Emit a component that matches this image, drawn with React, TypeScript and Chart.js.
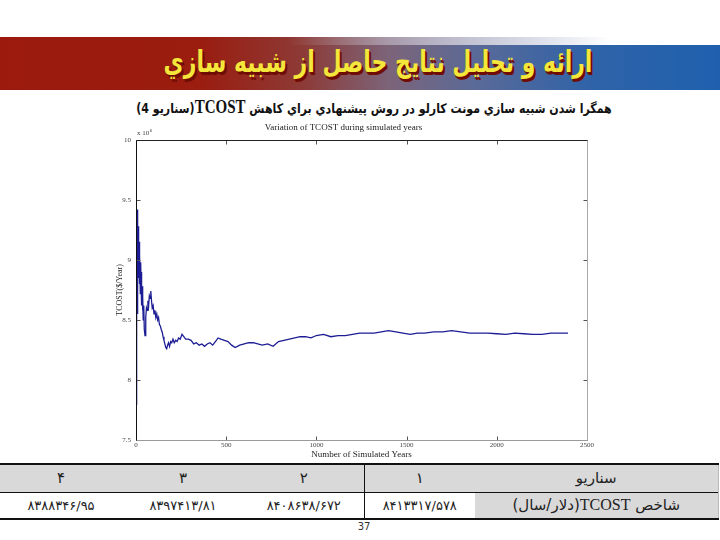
import React, { useEffect, useRef } from "react";
import { Chart, registerables } from "chart.js";

Chart.register(...registerables);

// ---- data ----
const years = [
  1, 2, 3, 4, 5, 6, 7, 8, 9, 10, 11, 12, 13, 14, 15, 16, 17, 18, 19, 20,
  22, 24, 26, 28, 30, 32, 34, 36, 38, 40, 43, 46, 50, 54, 58, 62, 66, 70,
  74, 78, 82, 86, 90, 95, 100, 105, 110, 115, 120, 125, 130, 135, 140, 145,
  150, 155, 160, 165, 170, 175, 180, 186, 192, 198, 205, 212, 220, 228, 236,
  245, 255, 265, 275, 290, 305, 320, 335, 350, 365, 380, 395, 410, 425, 440,
  455, 470, 490, 510, 530, 550, 575, 600, 625, 650, 675, 700, 730, 760, 790,
  820, 850, 880, 910, 940, 970, 1000, 1040, 1080, 1120, 1160, 1200, 1240,
  1280, 1320, 1360, 1400, 1440, 1480, 1520, 1560, 1600, 1650, 1700, 1750,
  1800, 1850, 1900, 1950, 2000, 2050, 2100, 2150, 2200, 2250, 2300, 2350, 2395,
];
const tcostMillions = [
  7.8, 8.95, 9.3, 8.2, 9.1, 9.38, 8.55, 9.2, 9.42, 8.85, 9.3, 8.95, 9.28, 8.9,
  9.22, 8.85, 9.15, 8.95, 9.12, 8.8, 9.05, 8.72, 8.98, 8.8, 8.9, 8.62, 8.78,
  8.58, 8.7, 8.5, 8.62, 8.42, 8.37, 8.52, 8.6, 8.58, 8.66, 8.62, 8.7, 8.68,
  8.74, 8.66, 8.6, 8.62, 8.55, 8.58, 8.52, 8.55, 8.5, 8.52, 8.46, 8.45, 8.42,
  8.4, 8.36, 8.33, 8.3, 8.27, 8.26, 8.29, 8.31, 8.28, 8.32, 8.31, 8.34, 8.31,
  8.33, 8.32, 8.35, 8.34, 8.38, 8.36, 8.34, 8.34, 8.33, 8.3, 8.31, 8.29, 8.3,
  8.28, 8.3, 8.31, 8.29, 8.32, 8.35, 8.34, 8.33, 8.32, 8.29, 8.27, 8.29, 8.3,
  8.31, 8.31, 8.3, 8.29, 8.3, 8.28, 8.32, 8.33, 8.34, 8.35, 8.36, 8.36, 8.35,
  8.37, 8.38, 8.36, 8.37, 8.37, 8.38, 8.39, 8.39, 8.39, 8.4, 8.41, 8.4, 8.39,
  8.38, 8.39, 8.39, 8.4, 8.4, 8.41, 8.4, 8.39, 8.39, 8.39, 8.385, 8.38, 8.39,
  8.385, 8.38, 8.38, 8.39, 8.39, 8.39,
];
const yTickValues = [7.5, 8, 8.5, 9, 9.5, 10];
const xTickValues = [0, 500, 1000, 1500, 2000, 2500];

const slideTitle = "ارائه و تحليل نتايج حاصل از شبيه سازي";
const subtitleText = "همگرا شدن شبيه سازي مونت كارلو در روش پيشنهادي براي كاهش";
const subtitleTail = "(سناريو 4)";
const chartTitle = "Variation of TCOST during simulated years";
const xAxisTitle = "Number of Simulated Years";
const yAxisTitle = "TCOST($/Year)";

const scenarioHeader = "سناريو";
const scenarioNames = ["۱", "۲", "۳", "۴"];
const scenarioValues = ["۸۴۱۳۳۱۷/۵۷۸", "۸۴۰۸۶۳۸/۶۷۲", "۸۳۹۷۴۱۳/۸۱", "۸۳۸۸۳۴۶/۹۵"];
const rowLabelPre = "شاخص ";
const rowLabelPost = "(دلار/سال)";
const pageNumber = "37";

const framePlugin = {
  id: "matlabFrame",
  afterDraw(chart: any) {
    const { ctx, chartArea: a, scales } = chart;
    const xs = scales.x;
    const ys = scales.y;
    ctx.save();
    ctx.lineWidth = 1;
    const seg = (x1: number, y1: number, x2: number, y2: number, c: string) => {
      ctx.strokeStyle = c;
      ctx.beginPath();
      ctx.moveTo(x1, y1);
      ctx.lineTo(x2, y2);
      ctx.stroke();
    };
    const L = Math.round(a.left) + 0.5;
    const R = Math.round(a.right) + 0.5;
    const T = Math.round(a.top) + 0.5;
    const B = Math.round(a.bottom) + 0.5;
    xs.ticks.forEach((t: any) => {
      const px = Math.round(xs.getPixelForValue(t.value)) + 0.5;
      seg(px, B, px, B - 4, "#555");
      seg(px, T, px, T + 4, "#555");
    });
    ys.ticks.forEach((t: any) => {
      const py = Math.round(ys.getPixelForValue(t.value)) + 0.5;
      seg(L, py, L + 4, py, "#555");
      seg(R, py, R - 4, py, "#555");
    });
    seg(L, B, R, B, "#9a9a9a");
    seg(R, T, R, B, "#a8a8a8");
    seg(L, T, R, T, "#222");
    seg(L, T, L, B, "#111");
    ctx.fillStyle = "#444";
    ctx.textBaseline = "alphabetic";
    ctx.textAlign = "left";
    ctx.font = '7px "Liberation Serif"';
    const base = "x 10";
    ctx.fillText(base, a.left + 1, a.top - 5);
    const w = ctx.measureText(base).width;
    ctx.font = '5px "Liberation Serif"';
    ctx.fillText("6", a.left + 1 + w + 0.5, a.top - 8);
    ctx.restore();
  },
};

function TcostChart() {
  const ref = useRef<HTMLCanvasElement | null>(null);
  useEffect(() => {
    if (!ref.current) return;
    const points = years.map((x, i) => ({ x, y: tcostMillions[i] }));
    const chart = new Chart(ref.current, {
      type: "line",
      data: {
        datasets: [
          {
            data: points,
            borderColor: "#1c1c94",
            borderWidth: 1.3,
            pointRadius: 0,
            tension: 0,
            fill: false,
          },
        ],
      },
      options: {
        animation: false,
        responsive: false,
        maintainAspectRatio: false,
        layout: { padding: { left: 0, right: 23, top: 0, bottom: 0 } },
        plugins: {
          legend: { display: false },
          tooltip: { enabled: false },
          title: {
            display: true,
            text: chartTitle,
            color: "#222",
            font: { family: "Liberation Serif", size: 9, weight: "normal" },
            padding: { top: 6, bottom: 7 },
          },
        },
        scales: {
          x: {
            type: "linear",
            min: 0,
            max: 2500,
            afterBuildTicks: (s: any) => {
              s.ticks = xTickValues.map((v) => ({ value: v }));
            },
            afterFit: (s: any) => {
              s.height = 22;
            },
            grid: { display: false, drawTicks: false },
            border: { display: false },
            ticks: {
              color: "#444",
              font: { family: "Liberation Serif", size: 7 },
              padding: 1,
              maxRotation: 0,
              callback: (v: any) => String(v),
            },
            title: {
              display: true,
              text: xAxisTitle,
              color: "#222",
              font: { family: "Liberation Serif", size: 9 },
              padding: { top: 0, bottom: 2 },
            },
          },
          y: {
            type: "linear",
            min: 7.5,
            max: 10,
            afterBuildTicks: (s: any) => {
              s.ticks = yTickValues.map((v) => ({ value: v }));
            },
            afterFit: (s: any) => {
              s.width = 36;
            },
            grid: { display: false, drawTicks: false },
            border: { display: false },
            ticks: {
              color: "#444",
              font: { family: "Liberation Serif", size: 7 },
              padding: 5,
              callback: (v: any) => String(v),
            },
            title: {
              display: true,
              text: yAxisTitle,
              color: "#222",
              font: { family: "Liberation Serif", size: 8 },
              padding: { top: 15, bottom: 0 },
            },
          },
        },
      },
      plugins: [framePlugin],
    } as any);
    return () => chart.destroy();
  }, []);
  return (
    <canvas
      ref={ref}
      width={510}
      height={346}
      style={{ position: "absolute", left: 100, top: 116, width: 510, height: 346 }}
    />
  );
}

export default function App() {
  const persian = '"DejaVu Sans", "Noto Sans", sans-serif';
  const colW = [243, 111, 120, 122, 122];
  const cellBase: React.CSSProperties = {
    padding: 0,
    textAlign: "center",
    verticalAlign: "middle",
    fontFamily: persian,
    color: "#222",
  };
  return (
    <div
      style={{
        position: "absolute",
        left: 0,
        top: 0,
        width: 720,
        height: 540,
        overflow: "hidden",
        background: "#fff",
      }}
    >
      {/* title bar */}
      <div
        style={{
          position: "absolute",
          left: 0,
          top: 37,
          width: 720,
          height: 53,
          background:
            "linear-gradient(to right, #9b1a0d 0%, #9a1d10 28%, #8d3a36 42%, #7c6479 54%, #5a6a98 66%, #2f63a8 82%, #1f60ae 100%)",
        }}
      />
      <div
        style={{
          position: "absolute",
          left: 0,
          top: 37,
          width: 720,
          height: 8,
          background:
            "linear-gradient(to right, rgba(155,26,13,0) 0%, rgba(200,170,170,0) 40%, rgba(215,210,220,0.7) 60%, rgba(255,255,255,1) 85%, #fff 100%)",
        }}
      />
      <div
        dir="rtl"
        style={{
          position: "absolute",
          left: 18,
          top: 40,
          width: 720,
          height: 46,
          lineHeight: "46px",
          textAlign: "center",
          fontFamily: persian,
          fontWeight: "bold",
          fontSize: 22,
          color: "#f4e63a",
          textShadow: "2px 2px 0 #6e0c05, 1px 1px 0 #8a140a",
          whiteSpace: "nowrap",
          transform: "scaleY(1.35)",
        }}
      >
        {slideTitle}
      </div>
      {/* subtitle */}
      <div
        dir="rtl"
        style={{
          position: "absolute",
          left: 0,
          top: 96,
          width: 748,
          height: 22,
          lineHeight: "22px",
          textAlign: "center",
          fontFamily: persian,
          fontWeight: "bold",
          fontSize: 11,
          color: "#111",
          whiteSpace: "nowrap",
          transform: "scaleY(1.2)",
        }}
      >
        {subtitleText}{" "}
        <span style={{ fontFamily: '"Liberation Serif", serif', fontSize: 15 }}>TCOST</span>
        {subtitleTail}
      </div>

      <TcostChart />

      {/* table */}
      <table
        dir="rtl"
        style={{
          position: "absolute",
          left: 0,
          top: 463,
          width: 718,
          borderCollapse: "collapse",
          tableLayout: "fixed",
          borderTop: "2px solid #111",
          borderBottom: "2px solid #111",
        }}
      >
        <colgroup>
          {colW.map((w, i) => (
            <col key={i} style={{ width: w }} />
          ))}
        </colgroup>
        <tbody>
          <tr style={{ height: 28, background: "#d9d9d9" }}>
            <td style={{ ...cellBase, fontSize: 15, borderRight: "1px solid #bbb" }}>{scenarioHeader}</td>
            {scenarioNames.map((n, i) => (
              <td
                key={i}
                style={{
                  ...cellBase,
                  fontSize: 15,
                  borderLeft: i === 0 ? "1px solid #111" : undefined,
                }}
              >
                {n}
              </td>
            ))}
          </tr>
          <tr style={{ height: 27, borderTop: "1px solid #111" }}>
            <td style={{ ...cellBase, fontSize: 15, background: "#d9d9d9", borderRight: "1px solid #bbb" }}>
              {rowLabelPre}
              <span style={{ fontFamily: '"Liberation Serif", serif', fontSize: 16 }}>TCOST</span>
              {rowLabelPost}
            </td>
            {scenarioValues.map((v, i) => (
              <td
                key={i}
                style={{
                  ...cellBase,
                  fontSize: 13,
                  background: "#fff",
                  borderLeft: i === 0 ? "1px solid #111" : undefined,
                }}
              >
                {v}
              </td>
            ))}
          </tr>
        </tbody>
      </table>
      <div
        style={{
          position: "absolute",
          left: 344,
          top: 521,
          width: 40,
          textAlign: "center",
          fontFamily: '"DejaVu Sans", sans-serif',
          fontSize: 10,
          color: "#333",
        }}
      >
        {pageNumber}
      </div>
    </div>
  );
}
